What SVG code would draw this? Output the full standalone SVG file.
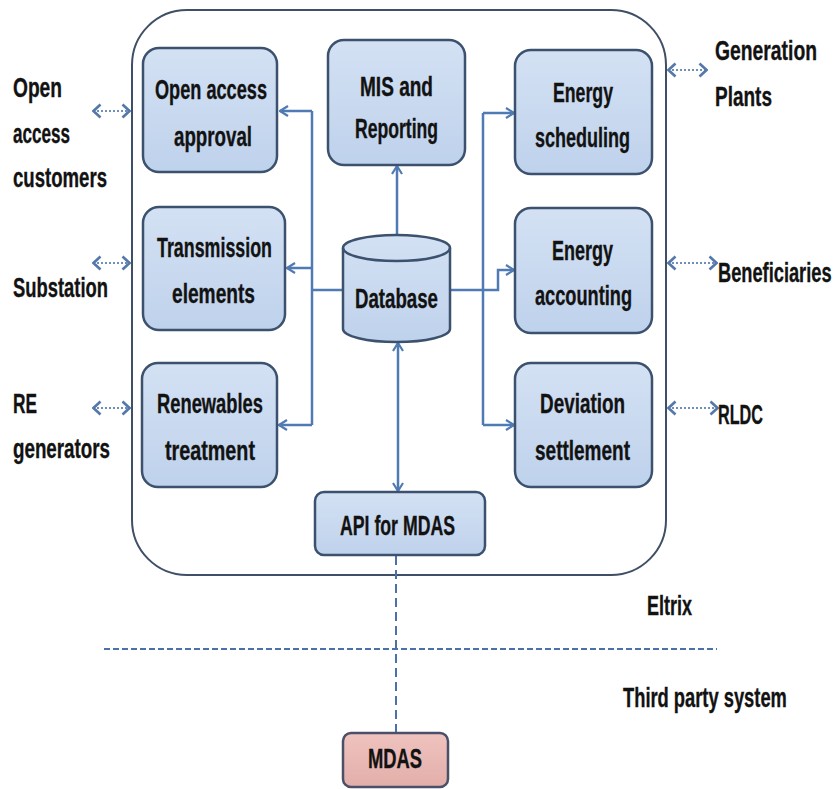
<svg xmlns="http://www.w3.org/2000/svg" width="836" height="789" viewBox="0 0 836 789">
  <defs>
    <linearGradient id="boxFill" x1="0" y1="0" x2="0" y2="1">
      <stop offset="0" stop-color="#d3e1f3"/>
      <stop offset="1" stop-color="#bfd2ec"/>
    </linearGradient>
    <linearGradient id="mdasFill" x1="0" y1="0" x2="0" y2="1">
      <stop offset="0" stop-color="#efc3bf"/>
      <stop offset="1" stop-color="#e3aeaa"/>
    </linearGradient>
    <marker id="arr" viewBox="0 0 10 12" refX="9" refY="6" markerWidth="10" markerHeight="12" markerUnits="userSpaceOnUse" orient="auto-start-reverse">
      <path d="M1,1 L9,6 L1,11" fill="none" stroke="#4f7ab3" stroke-width="2.2"/>
    </marker>
    <marker id="chev" viewBox="0 0 10 16" refX="9" refY="8" markerWidth="10" markerHeight="16" markerUnits="userSpaceOnUse" orient="auto-start-reverse">
      <path d="M1.5,1.5 L8.5,8 L1.5,14.5" fill="none" stroke="#5578ab" stroke-width="2.6"/>
    </marker>
  </defs>
  <style>
    .box { fill: url(#boxFill); stroke: #3c516e; stroke-width: 2.5; }
    .mdas { fill: url(#mdasFill); stroke: #4a5068; stroke-width: 2.5; }
    .frame { fill: #ffffff; stroke: #3f4f66; stroke-width: 2; }
    .t { font-family: "Liberation Sans Narrow", "Liberation Sans", Arial, sans-serif; font-weight: bold; font-size: 27px; fill: #121212; stroke: #121212; stroke-width: 0.35; }
    .wire { fill: none; stroke: #4f7ab3; stroke-width: 2.5; }
    .link { fill: none; stroke: #4f7ab3; stroke-width: 2.5; marker-end: url(#arr); }
    .ext { fill: none; stroke: #6e8fb8; stroke-width: 2; stroke-dasharray: 2 2; marker-start: url(#chev); marker-end: url(#chev); }
    .dash { fill: none; stroke: #4a72a8; stroke-width: 2; }
  </style>

  <rect width="836" height="789" fill="#ffffff"/>

  <!-- system boundary -->
  <rect id="eltrix-frame" class="frame" x="132" y="10" width="534" height="565" rx="55" ry="55"/>

  <!-- connectors -->
  <g id="connectors">
    <!-- database up to MIS -->
    <path class="link" d="M397,235 V166"/>
    <!-- left distribution bus -->
    <path class="wire" d="M312,111 V425"/>
    <path class="wire" d="M343,290 H312"/>
    <path class="link" d="M312,111 H280"/>
    <path class="link" d="M312,268 H287"/>
    <path class="link" d="M312,425 H279"/>
    <!-- right distribution bus -->
    <path class="wire" d="M483,113 V425"/>
    <path class="link" d="M483,113 H514"/>
    <path class="link" d="M483,425 H514"/>
    <path class="link" d="M450,290 H498 V270 H514"/>
    <!-- database to API, both ways -->
    <path class="link" style="marker-start:url(#arr)" d="M398,343 V491"/>
    <!-- API to MDAS -->
    <path class="dash" stroke-dasharray="9 5" d="M396,556 V732"/>
    <!-- Eltrix / third party boundary -->
    <path class="dash" stroke-dasharray="6 3" d="M104,649 H717"/>
    <!-- external parties -->
    <path class="ext" d="M93,111 H130"/>
    <path class="ext" d="M93,263 H130"/>
    <path class="ext" d="M93,408 H130"/>
    <path class="ext" d="M668,70 H707"/>
    <path class="ext" d="M668,263 H717"/>
    <path class="ext" d="M668,408 H718"/>
  </g>

  <!-- modules -->
  <g id="open-access-approval">
    <rect class="box" x="143" y="48" width="134" height="124" rx="16"/>
    <text class="t" x="155" y="99" textLength="112" lengthAdjust="spacingAndGlyphs">Open access</text>
    <text class="t" x="174" y="146" textLength="78" lengthAdjust="spacingAndGlyphs">approval</text>
  </g>

  <g id="mis-reporting">
    <rect class="box" x="328" y="40" width="137" height="125" rx="16"/>
    <text class="t" x="360" y="96" textLength="73" lengthAdjust="spacingAndGlyphs">MIS and</text>
    <text class="t" x="355" y="138" textLength="83" lengthAdjust="spacingAndGlyphs">Reporting</text>
  </g>

  <g id="energy-scheduling">
    <rect class="box" x="515" y="50" width="137" height="124" rx="16"/>
    <text class="t" x="553" y="102" textLength="60" lengthAdjust="spacingAndGlyphs">Energy</text>
    <text class="t" x="535" y="147" textLength="95" lengthAdjust="spacingAndGlyphs">scheduling</text>
  </g>

  <g id="transmission-elements">
    <rect class="box" x="143" y="207" width="142" height="123" rx="16"/>
    <text class="t" x="157" y="257" textLength="115" lengthAdjust="spacingAndGlyphs">Transmission</text>
    <text class="t" x="172" y="303" textLength="83" lengthAdjust="spacingAndGlyphs">elements</text>
  </g>

  <g id="database">
    <path class="box" d="M343,248 V329 A53.5,13 0 0 0 450,329 V248 A53.5,13 0 0 0 343,248 Z"/>
    <path fill="none" stroke="#3c516e" stroke-width="2.5" d="M343,248 A53.5,13 0 0 0 450,248"/>
    <text class="t" x="355" y="308" textLength="83" lengthAdjust="spacingAndGlyphs">Database</text>
  </g>

  <g id="energy-accounting">
    <rect class="box" x="515" y="208" width="137" height="125" rx="16"/>
    <text class="t" x="552" y="260" textLength="61" lengthAdjust="spacingAndGlyphs">Energy</text>
    <text class="t" x="535" y="305" textLength="97" lengthAdjust="spacingAndGlyphs">accounting</text>
  </g>

  <g id="renewables-treatment">
    <rect class="box" x="142" y="363" width="135" height="124" rx="16"/>
    <text class="t" x="157" y="413" textLength="106" lengthAdjust="spacingAndGlyphs">Renewables</text>
    <text class="t" x="165" y="460" textLength="90" lengthAdjust="spacingAndGlyphs">treatment</text>
  </g>

  <g id="deviation-settlement">
    <rect class="box" x="515" y="363" width="137" height="124" rx="16"/>
    <text class="t" x="540" y="413" textLength="85" lengthAdjust="spacingAndGlyphs">Deviation</text>
    <text class="t" x="535" y="460" textLength="95" lengthAdjust="spacingAndGlyphs">settlement</text>
  </g>

  <g id="api-for-mdas">
    <rect class="box" x="315" y="492" width="170" height="63" rx="9"/>
    <text class="t" x="340" y="535" textLength="115" lengthAdjust="spacingAndGlyphs">API for MDAS</text>
  </g>

  <g id="mdas">
    <rect class="mdas" x="343" y="733" width="105" height="54" rx="8"/>
    <text class="t" x="368" y="768" textLength="54" lengthAdjust="spacingAndGlyphs">MDAS</text>
  </g>

  <!-- external parties -->
  <g id="open-access-customers">
    <text class="t" x="13" y="97" textLength="49" lengthAdjust="spacingAndGlyphs">Open</text>
    <text class="t" x="13" y="143" textLength="57" lengthAdjust="spacingAndGlyphs">access</text>
    <text class="t" x="13" y="187" textLength="94" lengthAdjust="spacingAndGlyphs">customers</text>
  </g>
  <g id="substation">
    <text class="t" x="13" y="297" textLength="95" lengthAdjust="spacingAndGlyphs">Substation</text>
  </g>
  <g id="re-generators">
    <text class="t" x="13" y="413" textLength="24" lengthAdjust="spacingAndGlyphs">RE</text>
    <text class="t" x="13" y="458" textLength="97" lengthAdjust="spacingAndGlyphs">generators</text>
  </g>
  <g id="generation-plants">
    <text class="t" transform="translate(715,60) scale(0.68,1)" x="0" y="0" textLength="150" lengthAdjust="spacingAndGlyphs">Generation</text>
    <text class="t" x="715" y="106" textLength="57" lengthAdjust="spacingAndGlyphs">Plants</text>
  </g>
  <g id="beneficiaries">
    <text class="t" transform="translate(718,282) scale(0.68,1)" x="0" y="0" textLength="167" lengthAdjust="spacingAndGlyphs">Beneficiaries</text>
  </g>
  <g id="rldc">
    <text class="t" x="718" y="424" textLength="45" lengthAdjust="spacingAndGlyphs">RLDC</text>
  </g>

  <!-- domain labels -->
  <text class="t" x="647" y="615" textLength="45" lengthAdjust="spacingAndGlyphs">Eltrix</text>
  <text class="t" transform="translate(623,707) scale(0.68,1)" x="0" y="0" textLength="241" lengthAdjust="spacingAndGlyphs">Third party system</text>
</svg>
